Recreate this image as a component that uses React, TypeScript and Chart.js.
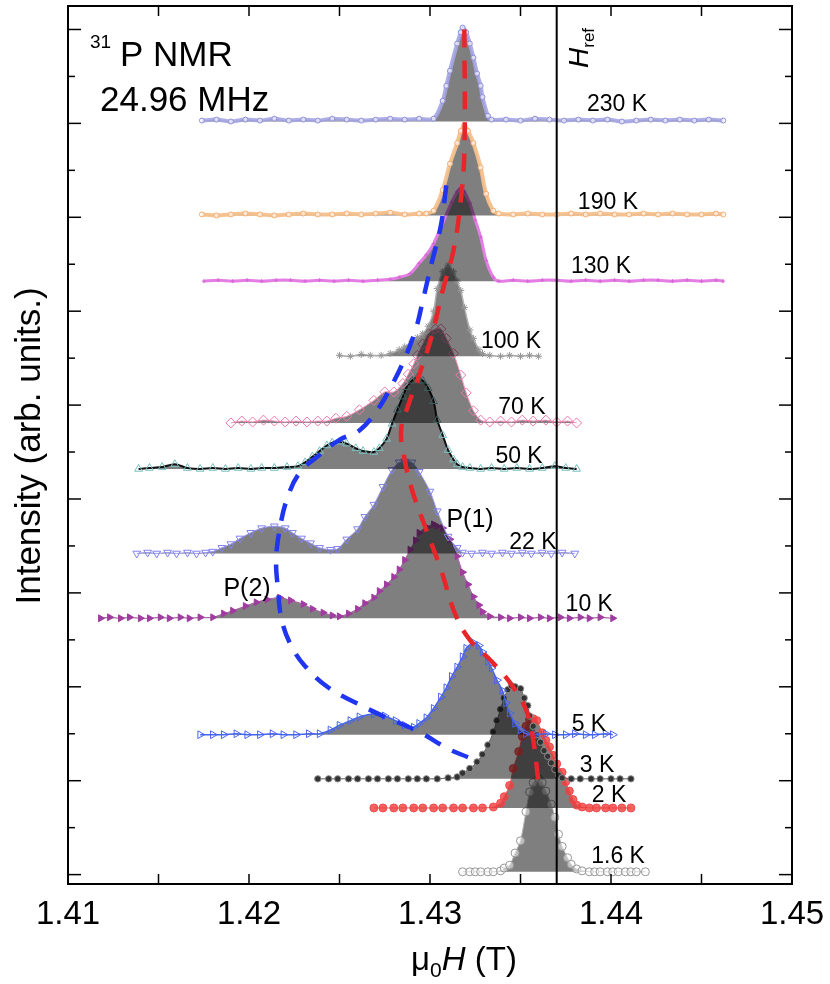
import { useEffect, useRef } from "react"
import { Chart, registerables } from "chart.js"

Chart.register(...registerables)

const FONT = "'Liberation Sans', Arial, Helvetica, sans-serif"

// temperatures, top to bottom
const temps = ["230 K", "190 K", "130 K", "100 K", "70 K", "50 K", "22 K", "10 K", "5 K", "3 K", "2 K", "1.6 K"]
// vertical offset of each spectrum (arb. units)
const offsets = [8.02, 7.02, 6.32, 5.52, 4.81, 4.32, 3.42, 2.73, 1.49, 1.02, 0.71, 0.03]

// field (T) and intensity of each spectrum
const fields230 = [1.4174, 1.4182, 1.419, 1.4198, 1.4206, 1.4214, 1.4222, 1.423, 1.4238, 1.4246, 1.4254, 1.4262, 1.427, 1.4278, 1.4286, 1.4294, 1.4302, 1.4307, 1.4309, 1.4311, 1.4315, 1.4317, 1.4318, 1.432, 1.4322, 1.4324, 1.4326, 1.4328, 1.4329, 1.4332, 1.4334, 1.4342, 1.435, 1.4358, 1.4366, 1.4374, 1.4382, 1.439, 1.4398, 1.4406, 1.4414, 1.4422, 1.443, 1.4438, 1.4446, 1.4454, 1.4462]
const int230 = [0.01, 0.02, 0.0, 0.02, 0.01, 0.03, 0.01, 0.02, 0.01, 0.03, 0.02, 0.01, 0.02, 0.03, 0.02, 0.03, 0.03, 0.22, 0.38, 0.54, 0.83, 0.95, 1.0, 0.95, 0.83, 0.68, 0.51, 0.38, 0.26, 0.06, 0.02, 0.02, 0.01, 0.03, 0.02, 0.01, 0.02, 0.01, 0.02, 0.0, 0.01, 0.02, 0.01, 0.02, 0.01, 0.02, 0.01]

const fields190 = [1.4174, 1.4182, 1.419, 1.4198, 1.4206, 1.4214, 1.4222, 1.423, 1.4238, 1.4246, 1.4254, 1.4262, 1.427, 1.4278, 1.4286, 1.4294, 1.4298, 1.4302, 1.4307, 1.4311, 1.4315, 1.4317, 1.4319, 1.4321, 1.4324, 1.4328, 1.4331, 1.4335, 1.4338, 1.4346, 1.4354, 1.4362, 1.437, 1.4378, 1.4386, 1.4394, 1.4402, 1.441, 1.4418, 1.4426, 1.4434, 1.4442, 1.445, 1.4458, 1.4462]
const int190 = [0.01, 0.0, 0.01, 0.02, 0.01, 0.0, 0.01, 0.02, 0.01, 0.01, 0.02, 0.01, 0.02, 0.03, 0.01, 0.02, 0.02, 0.05, 0.27, 0.55, 0.77, 0.9, 0.96, 0.9, 0.77, 0.51, 0.23, 0.05, 0.02, 0.01, 0.02, 0.01, 0.01, 0.02, 0.01, 0.02, 0.01, 0.01, 0.02, 0.01, 0.02, 0.01, 0.01, 0.02, 0.01]

const fields130 = [1.4175, 1.4183, 1.4191, 1.4199, 1.4207, 1.4215, 1.4223, 1.4231, 1.4239, 1.4247, 1.4255, 1.4263, 1.4271, 1.4278, 1.4283, 1.4289, 1.4294, 1.4298, 1.4302, 1.4307, 1.4312, 1.4315, 1.4317, 1.4319, 1.4322, 1.4325, 1.4328, 1.4331, 1.4335, 1.4338, 1.4346, 1.4354, 1.4362, 1.437, 1.4378, 1.4386, 1.4394, 1.4402, 1.441, 1.4418, 1.4426, 1.4434, 1.4442, 1.445, 1.4458, 1.4462]
const int130 = [0.0, 0.01, 0.0, 0.01, 0.0, 0.01, 0.01, 0.0, 0.01, 0.0, 0.01, 0.0, 0.01, 0.02, 0.04, 0.08, 0.19, 0.28, 0.4, 0.62, 0.84, 0.95, 0.99, 0.95, 0.83, 0.65, 0.47, 0.22, 0.04, 0.0, 0.01, 0.0, 0.01, 0.01, 0.0, 0.01, 0.0, 0.01, 0.0, 0.01, 0.01, 0.0, 0.01, 0.0, 0.01, 0.0]

const fields100 = [1.425, 1.4256, 1.4262, 1.4267, 1.4273, 1.4278, 1.4283, 1.4286, 1.429, 1.4293, 1.4296, 1.4299, 1.4302, 1.4304, 1.4307, 1.431, 1.4313, 1.4315, 1.4317, 1.4319, 1.4322, 1.4324, 1.4327, 1.4329, 1.4333, 1.4339, 1.4344, 1.435, 1.4355, 1.436]
const int100 = [0.01, 0.0, 0.02, 0.01, 0.01, 0.03, 0.07, 0.1, 0.16, 0.2, 0.24, 0.32, 0.48, 0.72, 0.9, 0.97, 0.9, 0.8, 0.7, 0.52, 0.28, 0.19, 0.07, 0.03, 0.01, 0.0, 0.01, 0.0, 0.01, 0.0]

const fields70 = [1.419, 1.4196, 1.4202, 1.4208, 1.4214, 1.422, 1.4226, 1.4232, 1.4238, 1.4243, 1.4248, 1.4254, 1.4261, 1.4269, 1.4275, 1.428, 1.4285, 1.4288, 1.4291, 1.4293, 1.4296, 1.4299, 1.4303, 1.4306, 1.4309, 1.4313, 1.4317, 1.432, 1.4324, 1.4328, 1.4333, 1.4339, 1.4345, 1.4351, 1.4357, 1.4364, 1.437, 1.4376, 1.4381]
const int70 = [0.0, 0.02, 0.01, 0.03, 0.02, 0.01, 0.02, 0.01, 0.02, 0.02, 0.05, 0.07, 0.14, 0.24, 0.33, 0.33, 0.42, 0.52, 0.63, 0.72, 0.84, 0.95, 1.0, 1.0, 0.9, 0.74, 0.51, 0.32, 0.13, 0.03, 0.01, 0.02, 0.01, 0.03, 0.02, 0.03, 0.01, 0.02, 0.0]

const fields50 = [1.4139, 1.4145, 1.4152, 1.4159, 1.4166, 1.4173, 1.418, 1.4187, 1.4194, 1.4201, 1.4207, 1.4214, 1.4221, 1.4227, 1.4231, 1.4235, 1.4239, 1.4243, 1.4246, 1.425, 1.4254, 1.4259, 1.4263, 1.4269, 1.4272, 1.4276, 1.4279, 1.4282, 1.4285, 1.4287, 1.429, 1.4293, 1.4296, 1.4299, 1.4302, 1.4304, 1.4307, 1.431, 1.4313, 1.4315, 1.4318, 1.4322, 1.4328, 1.4334, 1.4341, 1.4348, 1.4355, 1.4362, 1.4369, 1.4375, 1.4381]
const int50 = [0.0, 0.01, 0.02, 0.05, 0.01, 0.0, 0.01, 0.0, 0.01, 0.0, 0.01, 0.01, 0.02, 0.03, 0.07, 0.13, 0.19, 0.25, 0.28, 0.29, 0.27, 0.22, 0.19, 0.18, 0.22, 0.32, 0.48, 0.63, 0.77, 0.87, 0.94, 0.97, 0.94, 0.86, 0.72, 0.52, 0.36, 0.2, 0.1, 0.05, 0.02, 0.01, 0.0, 0.01, 0.0, 0.01, 0.0, 0.01, 0.03, 0.01, 0.0]

const fields22 = [1.4138, 1.4144, 1.4149, 1.4155, 1.416, 1.4166, 1.4171, 1.4176, 1.418, 1.4185, 1.419, 1.4195, 1.4201, 1.4207, 1.4214, 1.422, 1.4224, 1.4229, 1.4234, 1.4239, 1.4245, 1.4249, 1.4254, 1.426, 1.4264, 1.4269, 1.4274, 1.4279, 1.4283, 1.4286, 1.429, 1.4294, 1.43, 1.4304, 1.431, 1.4315, 1.4318, 1.4323, 1.4329, 1.4334, 1.434, 1.4345, 1.4351, 1.4356, 1.4362, 1.4367, 1.4373, 1.438]
const int22 = [0.0, 0.01, 0.0, 0.01, 0.0, 0.01, 0.0, 0.01, 0.02, 0.06, 0.1, 0.16, 0.22, 0.27, 0.29, 0.27, 0.22, 0.16, 0.11, 0.06, 0.04, 0.05, 0.15, 0.26, 0.39, 0.52, 0.71, 0.89, 0.97, 0.98, 0.97, 0.87, 0.66, 0.45, 0.18, 0.06, 0.01, 0.0, 0.01, 0.0, 0.01, 0.0, 0.01, 0.0, 0.01, 0.0, 0.01, 0.0]

const fields10 = [1.4118, 1.4123, 1.4129, 1.4134, 1.414, 1.4145, 1.4151, 1.4156, 1.4162, 1.4167, 1.4173, 1.418, 1.4186, 1.4191, 1.4198, 1.4204, 1.421, 1.4217, 1.4223, 1.423, 1.4235, 1.4241, 1.4246, 1.425, 1.4255, 1.426, 1.4264, 1.4269, 1.4272, 1.4276, 1.428, 1.4283, 1.4286, 1.4289, 1.4292, 1.4294, 1.4298, 1.4302, 1.4304, 1.4307, 1.4311, 1.4315, 1.4318, 1.4321, 1.4324, 1.4327, 1.4329, 1.4333, 1.4339, 1.4344, 1.435, 1.4355, 1.4361, 1.4366, 1.4372, 1.4377, 1.4383, 1.4388, 1.4394, 1.4401]
const int10 = [0.0, 0.01, 0.0, 0.01, 0.0, 0.0, 0.01, 0.0, 0.01, 0.0, 0.01, 0.01, 0.05, 0.08, 0.13, 0.17, 0.2, 0.22, 0.19, 0.15, 0.1, 0.06, 0.03, 0.02, 0.05, 0.1, 0.16, 0.22, 0.29, 0.36, 0.44, 0.52, 0.62, 0.73, 0.83, 0.91, 0.97, 1.0, 0.98, 0.96, 0.84, 0.66, 0.49, 0.36, 0.23, 0.14, 0.07, 0.02, 0.01, 0.0, 0.01, 0.0, 0.01, 0.0, 0.01, 0.0, 0.01, 0.0, 0.01, 0.0]

const fields5 = [1.4173, 1.418, 1.4186, 1.4193, 1.4199, 1.4206, 1.4213, 1.4219, 1.4226, 1.4233, 1.4239, 1.4245, 1.425, 1.4256, 1.4261, 1.4269, 1.4275, 1.4281, 1.4286, 1.4291, 1.4294, 1.4298, 1.4302, 1.4306, 1.4309, 1.4312, 1.4315, 1.4318, 1.432, 1.4324, 1.4327, 1.4329, 1.4332, 1.4334, 1.4337, 1.434, 1.4342, 1.4344, 1.4347, 1.435, 1.4353, 1.4358, 1.4364, 1.4369, 1.4375, 1.438, 1.4386, 1.4391, 1.4397, 1.4401]
const int5 = [0.0, 0.0, 0.0, 0.01, 0.0, 0.0, 0.01, 0.0, 0.0, 0.01, 0.01, 0.05, 0.1, 0.15, 0.19, 0.22, 0.2, 0.15, 0.1, 0.08, 0.12, 0.18, 0.28, 0.4, 0.5, 0.62, 0.72, 0.83, 0.92, 0.98, 0.95, 0.88, 0.78, 0.71, 0.58, 0.47, 0.34, 0.23, 0.12, 0.05, 0.01, 0.0, 0.01, 0.0, 0.0, 0.01, 0.0, 0.0, 0.01, 0.0]

const fields3 = [1.4238, 1.4244, 1.4249, 1.4255, 1.426, 1.4266, 1.4271, 1.4277, 1.4282, 1.4288, 1.4293, 1.4298, 1.4304, 1.431, 1.4315, 1.4318, 1.4322, 1.4326, 1.4329, 1.4332, 1.4335, 1.4337, 1.4339, 1.4341, 1.4343, 1.4345, 1.4347, 1.435, 1.4352, 1.4354, 1.4355, 1.4357, 1.4359, 1.4361, 1.4363, 1.4365, 1.4367, 1.4369, 1.4371, 1.4373, 1.4378, 1.4383, 1.4389, 1.4394, 1.44, 1.4405, 1.4411]
const int3 = [0, 0, 0, 0, 0, 0, 0, 0, 0, 0, 0, 0, 0, 0.01, 0.02, 0.06, 0.11, 0.18, 0.26, 0.36, 0.5, 0.62, 0.74, 0.86, 0.95, 0.99, 0.98, 0.96, 0.86, 0.78, 0.67, 0.56, 0.47, 0.39, 0.3, 0.24, 0.17, 0.1, 0.04, 0.01, 0, 0, 0, 0, 0, 0, 0]

const fields2 = [1.4269, 1.4274, 1.428, 1.4285, 1.4291, 1.4296, 1.4302, 1.4307, 1.4313, 1.4318, 1.4324, 1.4329, 1.4335, 1.4339, 1.4341, 1.4344, 1.4346, 1.4349, 1.4351, 1.4353, 1.4355, 1.4357, 1.4359, 1.4362, 1.4364, 1.4366, 1.4368, 1.437, 1.4373, 1.4375, 1.4377, 1.4379, 1.4381, 1.4384, 1.4388, 1.4392, 1.4397, 1.4401, 1.4406, 1.4411]
const int2 = [0, 0, 0, 0, 0, 0, 0, 0, 0, 0, 0, 0, 0.01, 0.05, 0.12, 0.24, 0.42, 0.6, 0.76, 0.87, 0.94, 0.95, 0.93, 0.8, 0.72, 0.65, 0.56, 0.47, 0.38, 0.28, 0.18, 0.09, 0.03, 0.01, 0, 0, 0, 0, 0, 0]

const fields16 = [1.4318, 1.4322, 1.4325, 1.4328, 1.4332, 1.4335, 1.4339, 1.4341, 1.4344, 1.4347, 1.435, 1.4353, 1.4355, 1.4357, 1.436, 1.4362, 1.4364, 1.4367, 1.4369, 1.4371, 1.4373, 1.4376, 1.4378, 1.4381, 1.4384, 1.4388, 1.4391, 1.4394, 1.4398, 1.4401, 1.4404, 1.4408, 1.4411, 1.4414, 1.4419]
const int16 = [0, 0, 0, 0, 0, 0, 0.01, 0.04, 0.07, 0.2, 0.33, 0.64, 0.85, 0.95, 0.99, 0.95, 0.86, 0.72, 0.58, 0.4, 0.27, 0.15, 0.08, 0.03, 0.01, 0, 0, 0, 0, 0, 0, 0, 0, 0, 0]

const spectraFields = [fields230, fields190, fields130, fields100, fields70, fields50, fields22, fields10, fields5, fields3, fields2, fields16]
const spectraInts = [int230, int190, int130, int100, int70, int50, int22, int10, int5, int3, int2, int16]

// guide lines following the P(1) and P(2) peaks
const p1Fields = [1.4319, 1.4319, 1.4317, 1.4313, 1.4307, 1.4301, 1.4294, 1.4288, 1.4284, 1.4286, 1.429, 1.4297, 1.4306, 1.4314, 1.4322, 1.4333, 1.4344, 1.4353, 1.4357, 1.436]
const p1Levels = [9.0, 7.71, 7.18, 6.65, 6.22, 5.74, 5.32, 5.0, 4.73, 4.42, 4.1, 3.72, 3.25, 2.77, 2.5, 2.29, 2.05, 1.76, 1.44, 0.96]
const p2Fields = [1.4309, 1.4306, 1.4301, 1.4296, 1.4292, 1.4285, 1.4278, 1.4271, 1.4261, 1.425, 1.4239, 1.4228, 1.4221, 1.4217, 1.4215, 1.4216, 1.4218, 1.4223, 1.4231, 1.4244, 1.4259, 1.4275, 1.4294, 1.431, 1.4321]
const p2Levels = [7.34, 6.91, 6.52, 6.11, 5.8, 5.45, 5.18, 4.95, 4.73, 4.63, 4.47, 4.28, 4.0, 3.68, 3.35, 3.04, 2.72, 2.45, 2.22, 1.99, 1.83, 1.68, 1.52, 1.34, 1.25]

const HREF = 1.437
const X_MIN = 1.41
const X_MAX = 1.45
const Y_MIN = -0.1
const Y_MAX = 9.25

// where the temperature labels sit (field, level)
const tempLabelAt = [
  [1.44033, 8.2], [1.43983, 7.16], [1.43945, 6.47], [1.43448, 5.68], [1.43508, 4.97], [1.43492, 4.45],
  [1.43569, 3.54], [1.4388, 2.88], [1.43878, 1.6], [1.43923, 1.16], [1.43989, 0.84], [1.44039, 0.19],
]

const looks = [
  { line: "rgba(165,165,228,0.9)", width: 4, shape: "circle", rot: 0, r: 2.5, edge: "rgb(140,140,215)", face: "rgba(255,255,255,0.6)" },
  { line: "rgba(246,192,140,0.95)", width: 4, shape: "circle", rot: 0, r: 2.5, edge: "rgb(244,172,110)", face: "rgba(255,255,255,0.6)" },
  { line: "rgb(228,125,228)", width: 3, shape: "cross", rot: 0, r: 2, edge: "rgb(215,100,215)", face: "rgb(215,100,215)" },
  { line: "rgb(175,175,175)", width: 1.5, shape: "star", rot: 0, r: 3.5, edge: "rgb(150,150,150)", face: "rgb(150,150,150)" },
  { line: "rgb(240,150,185)", width: 1, shape: "rectRot", rot: 0, r: 5, edge: "rgb(240,120,170)", face: "rgba(255,255,255,0)" },
  { line: "#111", width: 2, shape: "triangle", rot: 0, r: 4.5, edge: "rgb(120,190,190)", face: "rgba(255,255,255,0)" },
  { line: "rgb(150,150,240)", width: 1, shape: "triangle", rot: 180, r: 4.5, edge: "rgb(130,130,240)", face: "rgba(255,255,255,0)" },
  { line: "rgb(175,90,175)", width: 1, shape: "triangle", rot: 90, r: 4, edge: "rgb(160,60,160)", face: "rgb(160,60,160)" },
  { line: "rgb(70,100,240)", width: 1.5, shape: "triangle", rot: 90, r: 4.5, edge: "rgb(70,100,240)", face: "rgba(255,255,255,0)" },
  { line: "rgb(90,90,90)", width: 1, shape: "circle", rot: 0, r: 3.2, edge: "rgb(140,140,140)", face: "rgb(50,50,50)" },
  { line: "rgb(240,90,90)", width: 1, shape: "circle", rot: 0, r: 4, edge: "rgba(240,70,70,0.9)", face: "rgba(240,60,60,0.8)" },
  { line: "rgb(175,175,175)", width: 1, shape: "circle", rot: 0, r: 4, edge: "rgb(150,150,150)", face: "rgba(255,255,255,0.5)" },
]

function drawRich(ctx: CanvasRenderingContext2D, parts: [string, number, boolean, number][], x: number, y: number) {
  let cx = x
  for (const [s, size, italic, dy] of parts) {
    ctx.font = `${italic ? "italic " : ""}${size}px ${FONT}`
    ctx.fillText(s, cx, y + dy)
    cx += ctx.measureText(s).width
  }
  return cx - x
}

function richWidth(ctx: CanvasRenderingContext2D, parts: [string, number, boolean, number][]) {
  let w = 0
  for (const [s, size, italic] of parts) {
    ctx.font = `${italic ? "italic " : ""}${size}px ${FONT}`
    w += ctx.measureText(s).width
  }
  return w
}

const decor = {
  id: "decor",
  afterDraw(chart: any) {
    const { ctx, chartArea: a, scales } = chart
    const xs = scales.x
    const ys = scales.y
    ctx.save()
    ctx.strokeStyle = "#000"
    ctx.lineWidth = 1.5
    const seg = (x1: number, y1: number, x2: number, y2: number) => {
      ctx.beginPath()
      ctx.moveTo(x1, y1)
      ctx.lineTo(x2, y2)
      ctx.stroke()
    }
    for (let k = 0; k <= 8; k++) {
      const px = xs.getPixelForValue(X_MIN + k * 0.005)
      seg(px, a.bottom, px, a.bottom - 10)
      seg(px, a.top, px, a.top + 10)
    }
    for (let k = 0; k <= 18; k++) {
      const py = ys.getPixelForValue(k / 2)
      const len = k % 2 === 0 ? 13 : 7
      seg(a.left, py, a.left + len, py)
      seg(a.right, py, a.right - len, py)
    }
    ctx.lineWidth = 2
    ctx.strokeRect(a.left, a.top, a.right - a.left, a.bottom - a.top)

    ctx.fillStyle = "#000"
    ctx.textBaseline = "middle"
    ctx.textAlign = "center"
    ctx.font = `23px ${FONT}`
    temps.forEach((t, i) => {
      const [f, lv] = tempLabelAt[i]
      ctx.fillText(t, xs.getPixelForValue(f), ys.getPixelForValue(lv))
    })
    ctx.font = `25px ${FONT}`
    ctx.fillText("P(1)", xs.getPixelForValue(1.43221), ys.getPixelForValue(3.78))
    ctx.fillText("P(2)", xs.getPixelForValue(1.41989), ys.getPixelForValue(3.04))

    // header text
    ctx.textAlign = "left"
    ctx.textBaseline = "alphabetic"
    ctx.font = `19px ${FONT}`
    ctx.fillText("31", a.left + 22, a.top + 42)
    ctx.font = `35px ${FONT}`
    ctx.fillText("P NMR", a.left + 52, a.top + 60)
    ctx.fillText("24.96 MHz", a.left + 32, a.top + 105)

    // H_ref, rotated
    ctx.save()
    ctx.translate(xs.getPixelForValue(HREF) + 31, a.top + 62)
    ctx.rotate(-Math.PI / 2)
    drawRich(ctx, [["H", 28, true, 0], ["ref", 17, false, 6]], 0, 0)
    ctx.restore()

    // x title
    const title: [string, number, boolean, number][] = [["\u03bc", 33, false, 0], ["0", 21, false, 7], ["H", 33, true, 0], [" (T)", 33, false, 0]]
    const tw = richWidth(ctx, title)
    drawRich(ctx, title, 464 - tw / 2, 970)

    // y title
    ctx.save()
    ctx.translate(30, 446)
    ctx.rotate(-Math.PI / 2)
    ctx.textAlign = "center"
    ctx.textBaseline = "middle"
    ctx.font = `35px ${FONT}`
    ctx.fillText("Intensity (arb. units.)", 0, 0)
    ctx.restore()

    ctx.restore()
  },
}

export default function App() {
  const canvasRef = useRef<HTMLCanvasElement>(null)

  useEffect(() => {
    if (!canvasRef.current) return
    const ctx = canvasRef.current.getContext("2d")
    if (!ctx) return

    const spectra = spectraFields.map((fs, i) => {
      const look = looks[i]
      return {
        label: temps[i],
        data: fs.map((f, j) => ({ x: f, y: offsets[i] + (spectraInts[i][j] ?? 0) })),
        borderColor: look.line,
        borderWidth: look.width,
        backgroundColor: "rgba(0,0,0,0.5)",
        fill: { value: offsets[i] },
        tension: 0.3,
        pointStyle: look.shape,
        pointRotation: look.rot,
        pointRadius: look.r,
        pointBorderColor: look.edge,
        pointBackgroundColor: look.face,
        pointBorderWidth: 1,
        order: 2,
      }
    })

    const guides = [
      {
        label: "P(1)",
        data: p1Fields.map((f, j) => ({ x: f, y: p1Levels[j] })),
        borderColor: "#e8262a",
        borderWidth: 4.5,
        borderDash: [18, 13],
        tension: 0.4,
        pointRadius: 0,
        fill: false,
        order: 1,
      },
      {
        label: "P(2)",
        data: p2Fields.map((f, j) => ({ x: f, y: p2Levels[j] })),
        borderColor: "#1f35f0",
        borderWidth: 4.5,
        borderDash: [18, 13],
        tension: 0.4,
        pointRadius: 0,
        fill: false,
        order: 1,
      },
      {
        label: "Href",
        data: [{ x: HREF, y: Y_MIN }, { x: HREF, y: Y_MAX }],
        borderColor: "#000",
        borderWidth: 2,
        pointRadius: 0,
        fill: false,
        order: 0,
      },
    ]

    const chart = new Chart(ctx, {
      type: "line",
      data: { datasets: [...guides, ...spectra] as any },
      options: {
        responsive: false,
        animation: false,
        events: [],
        layout: { padding: { top: 5, right: 38, left: 0, bottom: 0 } },
        plugins: { legend: { display: false }, tooltip: { enabled: false } },
        scales: {
          x: {
            type: "linear",
            min: X_MIN,
            max: X_MAX,
            grid: { display: false, drawTicks: false },
            border: { display: false },
            ticks: {
              stepSize: 0.01,
              color: "#000",
              padding: 11,
              font: { family: FONT, size: 33 },
              callback: (v: any) => Number(v).toFixed(2),
            },
            afterFit: (s: any) => {
              s.height = 100
              s.paddingLeft = 0
              s.paddingRight = 0
            },
          },
          y: {
            type: "linear",
            min: Y_MIN,
            max: Y_MAX,
            grid: { display: false, drawTicks: false },
            border: { display: false },
            ticks: { display: false },
            afterFit: (s: any) => {
              s.width = 68
            },
          },
        },
      },
      plugins: [decor],
    })

    return () => chart.destroy()
  }, [])

  return (
    <div style={{ position: "absolute", left: 0, top: 0, width: 830, height: 984, background: "#fff" }}>
      <canvas ref={canvasRef} width={830} height={984} style={{ width: 830, height: 984 }} />
    </div>
  )
}
